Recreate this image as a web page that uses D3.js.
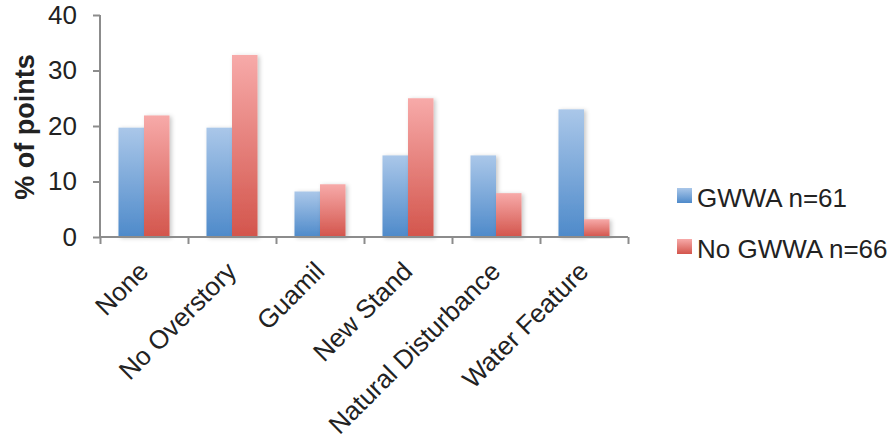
<!DOCTYPE html>
<html>
<head>
<meta charset="utf-8">
<script src="https://cdn.jsdelivr.net/npm/d3@7"></script>
<style>
  body { margin: 0; background: #fff; }
  svg { display: block; font-family: "Liberation Sans", Arial, sans-serif; }
</style>
</head>
<body>
<svg id="chart" width="895" height="439"></svg>
<script>
// Habitat categories and the share of points (%) in each group
const categories = ["None", "No Overstory", "Guamil", "New Stand", "Natural Disturbance", "Water Feature"];
const seriesNames = ["GWWA n=61", "No GWWA n=66"];
const gwwa = [19.7, 19.7, 8.2, 14.7, 14.7, 23.0];
const noGwwa = [21.9, 32.8, 9.5, 25.0, 7.9, 3.2];
const yTicks = [0, 10, 20, 30, 40];

const svg = d3.select("#chart");
const margin = { left: 100, right: 267, top: 15, bottom: 202 };
const W = 895, H = 439;
const FS = 26;

const x = d3.scaleBand().domain(categories).range([margin.left, W - margin.right]).paddingInner(0.42).paddingOuter(0.21);
const x1 = d3.scaleBand().domain([0, 1]).range([0, x.bandwidth()]);
const y = d3.scaleLinear().domain([0, 40]).range([H - margin.bottom, margin.top]);

const defs = svg.append("defs");
function grad(id, top, bottom) {
  const g = defs.append("linearGradient").attr("id", id).attr("x1", 0).attr("y1", 0).attr("x2", 0).attr("y2", 1);
  g.append("stop").attr("offset", "0%").attr("stop-color", top);
  g.append("stop").attr("offset", "100%").attr("stop-color", bottom);
}
grad("gBlue", "#AAC7E9", "#4E8ACA");
grad("gRed", "#F7AAA9", "#D3554C");
const sh = defs.append("filter").attr("id", "shadow").attr("x", "-20%").attr("y", "-10%").attr("width", "150%").attr("height", "120%");
sh.append("feDropShadow").attr("dx", 2).attr("dy", 1).attr("stdDeviation", 2).attr("flood-color", "#000").attr("flood-opacity", 0.22);

const fills = ["url(#gBlue)", "url(#gRed)"];
const data = [gwwa, noGwwa];

// Bars
data.forEach((vals, s) => {
  svg.append("g").selectAll("rect").data(categories).join("rect")
    .attr("x", d => x(d) + x1(s))
    .attr("width", x1.bandwidth())
    .attr("y", (d, i) => y(vals[i]))
    .attr("height", (d, i) => y(0) - y(vals[i]))
    .attr("fill", fills[s])
    .attr("filter", "url(#shadow)");
});

// Axes
const axisColor = "#8C8C8C";
const yAxis = svg.append("g").attr("transform", `translate(${margin.left},0)`)
  .call(d3.axisLeft(y).tickValues(yTicks).tickSize(7).tickPadding(16));
const xScaleEdges = d3.scaleLinear().domain([0, categories.length]).range([margin.left, W - margin.right]);
const xAxis = svg.append("g").attr("transform", `translate(0,${y(0)})`)
  .call(d3.axisBottom(xScaleEdges).tickValues(d3.range(categories.length + 1)).tickSize(7).tickFormat(""));
[yAxis, xAxis].forEach(a => {
  a.select(".domain").attr("stroke", axisColor).attr("stroke-width", 2);
  a.selectAll(".tick line").attr("stroke", axisColor).attr("stroke-width", 2);
});
xAxis.select(".domain").attr("d", `M${margin.left},0H${W - margin.right}`);
yAxis.select(".domain").attr("d", `M0,${y(40)}V${y(0)}`);
yAxis.selectAll(".tick text").attr("font-size", FS).attr("fill", "#222").attr("font-family", "Liberation Sans, Arial, sans-serif");

// Rotated category labels
svg.append("g").selectAll("text").data(categories).join("text")
  .attr("transform", d => `translate(${x(d) + x.bandwidth() / 2 + 6},${y(0) + 36}) rotate(-45)`)
  .attr("text-anchor", "end")
  .attr("font-size", FS)
  .attr("fill", "#222")
  .text(d => d);

// Y axis title
svg.append("text")
  .attr("transform", `translate(34,${(y(0) + y(40)) / 2 + 1}) rotate(-90)`)
  .attr("text-anchor", "middle")
  .attr("font-size", 27)
  .attr("font-weight", "bold")
  .attr("fill", "#222")
  .text("% of points");

// Legend
const legend = svg.append("g");
seriesNames.forEach((name, i) => {
  const ly = 188 + i * 51;
  legend.append("rect").attr("x", 677).attr("y", ly).attr("width", 15).attr("height", 15).attr("fill", fills[i]);
  legend.append("text").attr("x", 697).attr("y", ly + 19).attr("font-size", FS).attr("fill", "#222").text(name);
});
</script>
</body>
</html>
